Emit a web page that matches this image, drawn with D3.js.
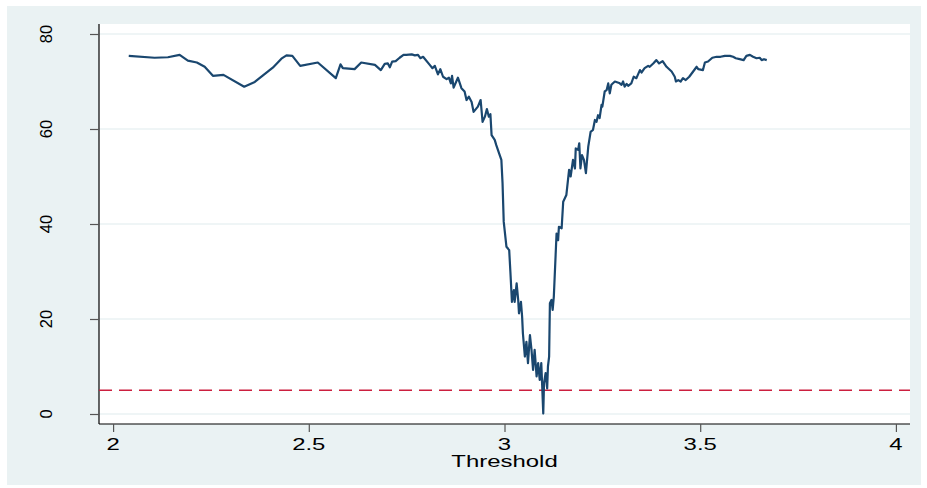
<!DOCTYPE html>
<html>
<head>
<meta charset="utf-8">
<script src="https://cdn.jsdelivr.net/npm/d3@7"></script>
<style>
  html, body { margin: 0; padding: 0; background: #ffffff; }
  svg { display: block; font-family: "Liberation Sans", Arial, sans-serif; }
</style>
</head>
<body>
<svg id="chart" width="927" height="488"></svg>
<script>
// ---- data ----
const threshold = [
  2.040,2.106,2.140,2.170,2.191,2.214,2.234,2.255,2.282,2.335,
  2.362,2.408,2.430,2.443,2.458,2.478,2.523,2.569,2.581,2.587,
  2.617,2.634,2.669,2.684,2.694,2.702,2.707,2.713,2.722,2.732,
  2.742,2.749,2.763,2.771,2.779,2.785,2.792,
  2.809,2.816,2.822,2.830,2.836,2.843,2.852,2.858,2.863,2.866,
  2.870,2.881,2.890,2.898,2.903,2.909,2.916,2.921,2.932,2.939,
  2.944,2.950,2.955,2.960,2.964,2.967,2.975,2.979,2.986,2.992,
  2.995,2.998,3.005,3.012,3.015,3.019,3.024,3.026,3.031,3.035,
  3.037,3.042,3.045,3.047,3.052,3.056,3.060,3.065,3.069,3.073,
  3.077,3.082,3.086,3.090,3.094,3.097,3.099,3.101,3.105,3.109,
  3.111,3.114,3.116,3.120,3.123,3.126,3.133,3.137,3.139,3.146,
  3.150,3.158,3.165,3.169,3.175,3.180,3.182,3.188,3.191,3.194,
  3.198,3.203,3.208,3.214,3.220,3.226,3.231,3.235,3.239,3.243,
  3.248,3.250,3.256,3.261,3.265,3.269,3.273,
  3.282,3.293,3.299,3.303,3.307,3.312,3.316,3.324,3.330,3.337,
  3.346,3.350,3.358,3.367,3.371,3.380,3.388,3.395,3.404,3.414,
  3.427,3.435,3.438,3.444,3.450,3.456,3.463,3.472,3.482,3.491,
  3.495,3.507,3.512,3.520,3.531,3.542,3.552,3.563,3.576,3.584,
  3.591,3.601,3.611,3.618,3.627,3.635,3.644,3.652,3.657,3.663,
  3.670
];
const value = [
  75.4,75.0,75.1,75.6,74.4,74.0,73.1,71.2,71.4,68.9,
  69.9,72.9,74.8,75.5,75.4,73.3,74.0,70.7,73.6,72.8,
  72.6,74.0,73.5,72.4,73.7,73.8,73.0,74.2,74.3,75.0,
  75.6,75.6,75.7,75.5,75.6,74.9,75.2,
  73.5,72.8,73.3,71.5,72.6,71.0,70.5,70.8,69.6,71.2,
  68.7,70.8,68.6,67.9,66.1,66.8,65.7,63.6,64.7,66.1,
  61.5,62.6,64.2,62.6,63.1,58.7,57.7,56.6,54.9,53.5,
  48.6,40.5,35.2,34.5,30.0,23.6,26.1,23.6,27.5,24.0,
  21.2,23.6,20.5,17.0,12.1,15.2,10.7,16.6,13.5,9.3,
  13.5,7.9,10.7,7.2,10.7,4.4,0.1,6.5,8.6,5.4,
  10.0,12.1,23.3,24.0,21.9,24.7,38.0,36.6,39.4,39.1,
  44.7,46.1,51.4,50.0,53.5,51.7,55.9,55.6,57.0,51.7,
  54.5,53.5,50.7,56.3,59.4,59.8,61.9,61.5,62.9,62.3,
  65.1,64.7,67.9,68.2,69.6,67.5,69.3,
  70.0,69.7,69.3,70.0,68.9,69.5,69.1,69.6,71.0,70.7,
  72.4,71.9,72.8,73.3,73.1,73.8,74.5,73.8,74.3,73.1,
  72.1,71.0,70.0,70.3,70.0,70.7,70.3,71.0,72.1,73.1,
  72.6,72.4,74.0,74.2,75.0,75.2,75.2,75.4,75.4,75.2,
  74.9,74.7,74.5,75.4,75.6,75.2,74.9,75.0,74.5,74.7,
  74.5
];
const xTicks = [2, 2.5, 3, 3.5, 4];
const xTickLabels = ["2", "2.5", "3", "3.5", "4"];
const yTicks = [0, 20, 40, 60, 80];
const yTickLabels = ["0", "20", "40", "60", "80"];
const refLine = 5;
const xTitle = "Threshold";

// ---- layout ----
const svg = d3.select("#chart");
const plot = { left: 99, right: 910, top: 24, bottom: 424 };
const x = d3.scaleLinear().domain([1.964, 4.036]).range([plot.left, plot.right]);
const y = d3.scaleLinear().domain([0, 80]).range([414, 34]);
const hStretch = 1.45;

// outer background
svg.append("rect").attr("x", 7).attr("y", 6).attr("width", 914).attr("height", 479)
  .attr("fill", "#eaf2f3");
// plot region
svg.append("rect").attr("x", plot.left).attr("y", plot.top)
  .attr("width", plot.right - plot.left).attr("height", plot.bottom - plot.top)
  .attr("fill", "#ffffff");

// gridlines
svg.append("g").selectAll("line").data(yTicks).join("line")
  .attr("x1", plot.left).attr("x2", plot.right)
  .attr("y1", d => y(d)).attr("y2", d => y(d))
  .attr("stroke", "#eaf2f3").attr("stroke-width", 1.5);

// y axis
const yAxis = svg.append("g").attr("transform", `translate(${plot.left},0)`)
  .call(d3.axisLeft(y).tickValues(yTicks).tickSize(9).tickFormat(""));
yAxis.select(".domain").attr("d", `M0,${plot.top}V${plot.bottom}`).attr("stroke", "#000").attr("stroke-width", 1.2);
yAxis.selectAll(".tick line").attr("stroke", "#555").attr("stroke-width", 1.2);
svg.append("g").selectAll("text").data(yTicks).join("text")
  .attr("transform", (d) => `translate(52,${y(d)}) rotate(-90)`)
  .attr("text-anchor", "middle")
  .attr("font-size", 16.5).attr("fill", "#000")
  .text((d, i) => yTickLabels[i]);

// x axis
const xAxis = svg.append("g").attr("transform", `translate(0,${plot.bottom})`)
  .call(d3.axisBottom(x).tickValues(xTicks).tickSize(8).tickFormat(""));
xAxis.select(".domain").attr("d", `M${plot.left},0H${plot.right}`).attr("stroke", "#000").attr("stroke-width", 1.2);
xAxis.selectAll(".tick line").attr("stroke", "#555").attr("stroke-width", 1.2);
svg.append("g").selectAll("text").data(xTicks).join("text")
  .attr("transform", d => `translate(${x(d)},450) scale(${hStretch},1)`)
  .attr("text-anchor", "middle")
  .attr("font-size", 16.5).attr("fill", "#000")
  .text((d, i) => xTickLabels[i]);
svg.append("text")
  .attr("transform", `translate(${(plot.left + plot.right) / 2},467) scale(${hStretch},1)`)
  .attr("text-anchor", "middle").attr("font-size", 16.5).attr("fill", "#000")
  .text(xTitle);

// reference line
svg.append("line")
  .attr("x1", plot.left).attr("x2", plot.right)
  .attr("y1", y(refLine)).attr("y2", y(refLine))
  .attr("stroke", "#cc1f3f").attr("stroke-width", 1.6)
  .attr("stroke-dasharray", "13,7");

// series line
const pts = threshold.map((t, i) => [t, value[i]]);
svg.append("path").datum(pts)
  .attr("fill", "none").attr("stroke", "#1a476f").attr("stroke-width", 2.2)
  .attr("stroke-linejoin", "round")
  .attr("d", d3.line().x(d => x(d[0])).y(d => y(d[1])));
</script>
</body>
</html>
